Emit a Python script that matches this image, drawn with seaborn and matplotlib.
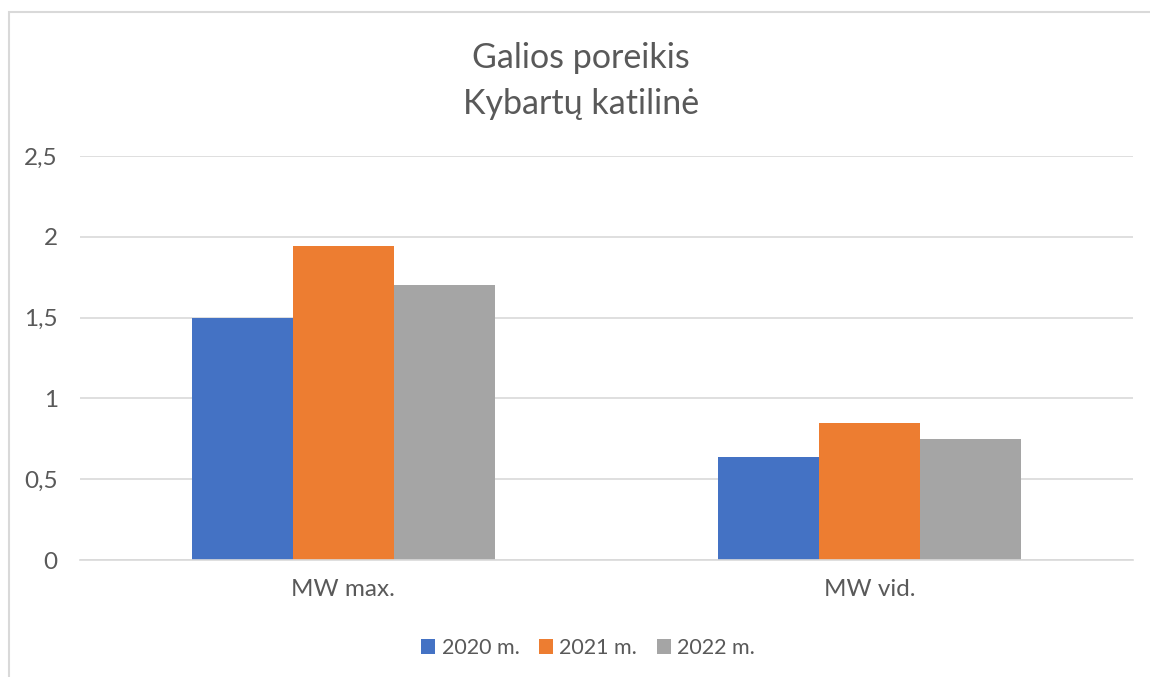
import numpy as np
import pandas as pd
import matplotlib
matplotlib.use('Agg')
import matplotlib.pyplot as plt
import seaborn as sns
from matplotlib.patches import Rectangle

categories = ['MW max.', 'MW vid.']
years = ['2020 m.', '2021 m.', '2022 m.']
v2020 = [1.5, 0.64]
v2021 = [1.94, 0.85]
v2022 = [1.7, 0.75]
yticks = [0, 0.5, 1, 1.5, 2, 2.5]
ytick_labels = ['0', '0,5', '1', '1,5', '2', '2,5']

df = pd.DataFrame({
    'cat': categories * 3,
    'year': [years[0]] * 2 + [years[1]] * 2 + [years[2]] * 2,
    'val': v2020 + v2021 + v2022,
})

sns.set_style('white')
plt.rcParams['font.family'] = ['Lato', 'DejaVu Sans']
txt = '#595959'
palette = ['#4472C4', '#ED7D31', '#A5A5A5']

fig = plt.figure(figsize=(11.5, 6.77), dpi=100)
ax = fig.add_axes([0.0696, 0.1728, 0.9154, 0.5968])

sns.barplot(data=df, x='cat', y='val', hue='year', palette=palette,
            width=0.575, saturation=1, gap=0, ax=ax, legend=True)
for p in ax.patches:
    p.set_edgecolor('none')

ax.set_ylim(0, 2.5)
ax.set_xlim(-0.5, 1.5)
ax.set_yticks(yticks)
ax.set_yticklabels(ytick_labels)
ax.yaxis.grid(True, color='#D9D9D9', linewidth=1.2)
ax.set_axisbelow(True)
for s in ['top', 'right', 'left']:
    ax.spines[s].set_visible(False)
ax.spines['bottom'].set_color('#D9D9D9')
ax.spines['bottom'].set_linewidth(1.2)
ax.tick_params(axis='both', length=0, labelsize=17.5, colors=txt)
ax.tick_params(axis='y', pad=16)
ax.tick_params(axis='x', pad=14)
ax.set_xlabel('')
ax.set_ylabel('')

leg = ax.legend(loc='center', bbox_to_anchor=(588 / 1150, 1 - 648 / 677),
                bbox_transform=fig.transFigure, ncol=3, frameon=False,
                fontsize=15.5, handlelength=0.65, handleheight=0.65,
                handletextpad=0.3, columnspacing=0.9)
for t in leg.get_texts():
    t.set_color(txt)

fig.text(0.505, 1 - 58 / 677, 'Galios poreikis', ha='center', va='center',
         fontsize=24.5, color=txt)
fig.text(0.505, 1 - 104 / 677, 'Kybartų katilinė', ha='center', va='center',
         fontsize=24.5, color=txt)

fig.patches.append(Rectangle((9 / 1150, -0.1), 1.2, 1.1 - 12 / 677,
                             transform=fig.transFigure, fill=False,
                             edgecolor='#D9D9D9', linewidth=1.5))

fig.savefig('out.png', dpi=100)
